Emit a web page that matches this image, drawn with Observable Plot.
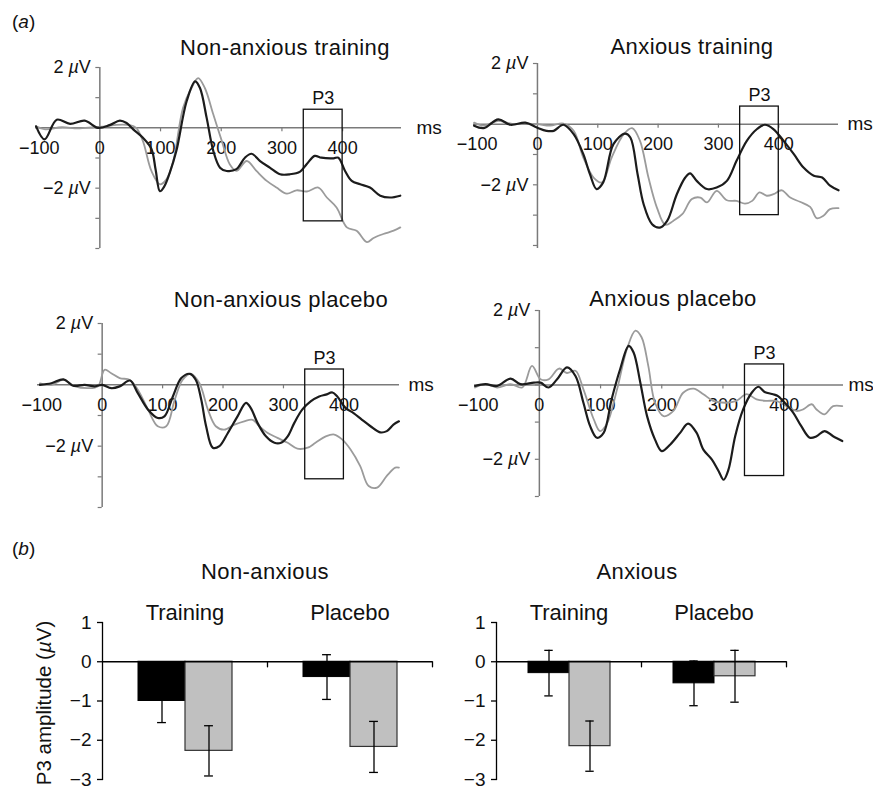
<!DOCTYPE html>
<html><head><meta charset="utf-8">
<script src="https://cdn.jsdelivr.net/npm/d3@7"></script>
<script src="https://cdn.jsdelivr.net/npm/@observablehq/plot@0.6"></script>
<style>
body{margin:0;background:#fff;font-family:"Liberation Sans",Arial,Helvetica,sans-serif;color:#111}
#fig{position:relative;width:873px;height:789px;overflow:hidden;background:#fff}
.lab{position:absolute;white-space:nowrap;transform:translate(-50%,-50%);font-size:22px;line-height:1;letter-spacing:0.4px}
.tag{position:absolute;white-space:nowrap;font-size:19px;line-height:1}
</style></head><body><div id="fig"></div>
<script>
// ---------- ERP waveforms: [ms, µV] ----------
const naTrainingBlack = [[-105,0.05],[-91,-0.38],[-71,0.27],[-49,0.13],[-25,0.24],[-3,0],[16,0.09],[33,0.24],[44,0.16],[55,-0.05],[71,-0.33],[85,-0.7],[92,-1.4],[99,-2.1],[106,-1.95],[115,-1.5],[126,-0.77],[143,0.88],[157,1.54],[165,1.32],[176,0.33],[187,-0.77],[198,-1.32],[209,-1.43],[225,-1.37],[239,-0.99],[250,-0.86],[264,-1.1],[280,-1.32],[297,-1.54],[313,-1.54],[330,-1.45],[341,-1.2],[354,-0.93],[365,-0.99],[385,-1.01],[393,-0.99],[404,-1.43],[415,-1.76],[429,-1.87],[445,-1.98],[462,-2.25],[478,-2.31],[495,-2.25]];
const naTrainingGrey = [[-105,0.05],[-90,-0.05],[-63,0.02],[-36,-0.02],[-10,0.02],[10,0.05],[27,0.1],[49,0.09],[60,0],[71,-0.44],[85,-1.43],[99,-1.87],[110,-1.7],[121,-1.1],[137,0.66],[151,1.32],[162,1.65],[173,1.32],[187,0.44],[201,-0.44],[214,-1.21],[225,-1.43],[242,-1.1],[258,-1.43],[275,-1.76],[291,-1.98],[308,-2.18],[324,-2.07],[341,-2.11],[360,-1.98],[374,-2.31],[390,-2.64],[407,-3.3],[423,-3.41],[440,-3.79],[451,-3.65],[467,-3.52],[484,-3.41],[495,-3.3]];
const aTrainingBlack = [[-105,-0.05],[-89,-0.13],[-65,0.16],[-45,-0.02],[-20,0.05],[-1,-0.11],[15,-0.22],[27,-0.22],[43,-0.02],[60,-0.33],[76,-0.99],[87,-1.65],[98,-2.14],[109,-1.92],[126,-0.66],[145,-0.31],[154,-0.44],[166,-1.65],[176,-2.64],[190,-3.3],[203,-3.41],[215,-3.19],[231,-2.31],[245,-1.76],[253,-1.62],[264,-1.87],[281,-2.14],[297,-2.09],[314,-1.87],[330,-1.21],[347,-0.55],[364,-0.16],[377,-0.02],[391,-0.16],[408,-0.55],[425,-0.99],[441,-1.43],[458,-1.7],[472,-1.76],[485,-2.03],[499,-2.18]];
const aTrainingGrey = [[-105,0.05],[-89,-0.05],[-65,0.11],[-40,0],[-18,0.02],[0,0],[21,-0.05],[43,0.02],[60,-0.22],[76,-1.1],[93,-1.76],[107,-1.92],[123,-1.1],[143,-0.33],[157,-0.13],[170,-0.55],[184,-1.76],[198,-2.75],[212,-3.32],[225,-3.19],[240,-2.97],[256,-2.47],[270,-2.42],[281,-2.58],[297,-2.2],[314,-2.51],[330,-2.53],[344,-2.62],[356,-2.53],[368,-2.25],[380,-2.36],[391,-2.31],[405,-2.18],[419,-2.42],[435,-2.56],[452,-2.73],[463,-3.1],[474,-3.02],[485,-2.8],[499,-2.77]];
const naPlaceboBlack = [[-103,0],[-84,0.05],[-64,0.18],[-48,-0.03],[-29,0],[-12,-0.05],[0,0],[15,-0.11],[29,-0.05],[46,0.14],[59,-0.27],[76,-0.81],[92,-1.08],[103,-1.03],[117,-0.38],[131,0.22],[145,0.36],[155,0.16],[164,-0.49],[172,-1.35],[183,-2.05],[194,-2.0],[208,-1.57],[224,-1.03],[238,-0.59],[246,-0.76],[257,-1.24],[271,-1.68],[285,-1.89],[296,-1.89],[307,-1.68],[318,-1.24],[331,-0.81],[345,-0.54],[359,-0.38],[370,-0.32],[381,-0.25],[389,-0.38],[403,-0.76],[416,-0.92],[430,-1.14],[444,-1.35],[460,-1.55],[471,-1.51],[482,-1.3],[491,-1.19]];
const naPlaceboGrey = [[-103,0.05],[-84,0],[-64,0.16],[-45,-0.05],[-23,-0.11],[-7,-0.05],[4,0.49],[15,0.38],[29,0.22],[46,0.16],[59,-0.16],[76,-0.81],[92,-1.35],[106,-1.35],[120,-0.49],[133,0.16],[147,0.36],[161,0.05],[175,-0.81],[188,-1.35],[202,-1.46],[219,-1.3],[235,-1.19],[249,-1.14],[260,-1.35],[274,-1.57],[290,-1.73],[307,-1.89],[323,-2.08],[340,-2.05],[353,-1.89],[370,-1.68],[384,-1.62],[397,-1.78],[411,-2.11],[427,-2.65],[441,-3.3],[455,-3.35],[471,-2.97],[485,-2.7],[491,-2.7]];
const aPlaceboBlack = [[-105,-0.03],[-88,0.02],[-69,-0.03],[-47,0.17],[-31,0.02],[-9,0.06],[2,0.06],[15,-0.07],[29,0.15],[45,0.47],[59,0.24],[72,-0.48],[83,-1.11],[94,-1.42],[105,-1.29],[118,-0.39],[132,0.42],[146,1.05],[154,0.87],[165,0.06],[176,-0.84],[189,-1.47],[200,-1.78],[214,-1.6],[230,-1.29],[243,-1.04],[257,-1.29],[268,-1.74],[282,-2.01],[293,-2.32],[301,-2.55],[309,-2.28],[320,-1.38],[333,-0.66],[347,-0.21],[358,-0.05],[368,-0.19],[382,-0.25],[390,-0.3],[398,-0.43],[415,-0.75],[428,-1.11],[442,-1.42],[453,-1.38],[466,-1.24],[480,-1.38],[495,-1.51]];
const aPlaceboGrey = [[-105,-0.07],[-88,0.02],[-69,-0.07],[-47,0.02],[-28,-0.07],[-12,0.51],[2,0.15],[15,0.15],[32,0.44],[45,0.32],[59,0.38],[72,-0.12],[89,-0.93],[99,-1.24],[110,-1.06],[127,-0.12],[143,0.96],[157,1.46],[167,1.28],[178,0.51],[189,-0.48],[203,-0.84],[219,-0.7],[235,-0.21],[252,-0.1],[268,-0.25],[284,-0.43],[306,-0.48],[322,-0.43],[339,-0.25],[355,-0.39],[371,-0.43],[387,-0.43],[404,-0.57],[420,-0.7],[431,-0.66],[445,-0.52],[453,-0.66],[466,-0.79],[480,-0.57],[495,-0.57]];

// P3 window boxes
const p3Window = [336, 400];
const p3BoxLow = [-3.1, -3.0, -3.08, -2.45];
const p3BoxHigh = [0.6, 0.58, 0.5, 0.55];

// ERP axis ticks / labels
const erpXTicks = [100, 200, 300, 400];
const erpXLabels = [-100, 0, 100, 200, 300, 400];
const erpYLabels = [2, -2];
const erpTitles = ["Non-anxious training", "Anxious training", "Non-anxious placebo", "Anxious placebo"];

// ---------- P3 amplitude bars ----------
const barGroups = ["Training", "Placebo"];
const barSeries = ["dark", "light"];
const barYTicks = [1, 0, -1, -2, -3];
const nonAnxiousDark = [-1.0, -0.39];
const nonAnxiousDarkErr = [0.55, 0.57];
const nonAnxiousLight = [-2.27, -2.17];
const nonAnxiousLightErr = [0.64, 0.65];
const anxiousDark = [-0.29, -0.55];
const anxiousDarkErr = [0.58, 0.57];
const anxiousLight = [-2.15, -0.37];
const anxiousLightErr = [0.64, 0.66];

// ---------- rendering ----------
const fig = document.getElementById("fig");
const FONT = '"Liberation Sans", Arial, Helvetica, sans-serif';
const AXIS = "#7a7a7a", BLACK = "#1c1c1c", GREY = "#9b9b9b";
const fmt = d => (d < 0 ? "\u2212" + (-d) : String(d));
const svgStyle = {fontFamily: FONT, fontSize: "18px", color: "#111", background: "transparent", overflow: "visible"};

function place(el, left, top) {
  el.style.position = "absolute";
  el.style.left = left + "px";
  el.style.top = top + "px";
  fig.appendChild(el);
}

const erpLayout = [
  {left: 0,   top: 40,  width: 435, height: 225, ml: 35, mr: 34, mt: 27, mb: 17, xDomain: [-106, 497], yDomain: [-4, 2],   msDx: 15},
  {left: 435, top: 40,  width: 438, height: 225, ml: 38, mr: 35, mt: 23, mb: 17, xDomain: [-106, 499], yDomain: [-4.1, 2], msDx: 9},
  {left: 0,   top: 295, width: 435, height: 225, ml: 37, mr: 36, mt: 28, mb: 13, xDomain: [-107, 492], yDomain: [-4, 2],   msDx: 9},
  {left: 435, top: 295, width: 438, height: 225, ml: 39, mr: 30, mt: 15, mb: 24, xDomain: [-106, 497], yDomain: [-3, 2],   msDx: 5}
];
const erpCurves = [
  [naTrainingBlack, naTrainingGrey], [aTrainingBlack, aTrainingGrey],
  [naPlaceboBlack, naPlaceboGrey], [aPlaceboBlack, aPlaceboGrey]
];

erpLayout.forEach((p, i) => {
  const ky = (p.height - p.mt - p.mb) / (p.yDomain[1] - p.yDomain[0]);
  const kx = (p.width - p.ml - p.mr) / (p.xDomain[1] - p.xDomain[0]);
  const yTicks = d3.range(Math.ceil(p.yDomain[0]), p.yDomain[1] + 1);
  const box = {x1: p3Window[0], x2: p3Window[1], y1: p3BoxLow[i], y2: p3BoxHigh[i]};
  const [black, grey] = erpCurves[i];
  const svg = Plot.plot({
    width: p.width, height: p.height,
    marginLeft: p.ml, marginRight: p.mr, marginTop: p.mt, marginBottom: p.mb,
    x: {domain: p.xDomain, axis: null},
    y: {domain: p.yDomain, axis: null},
    style: svgStyle,
    marks: [
      Plot.ruleY([0], {stroke: AXIS, strokeWidth: 1.5}),
      Plot.ruleX([0], {stroke: AXIS, strokeWidth: 1.5}),
      Plot.ruleX(erpXTicks, {x: d => d, y1: 0, y2: -4 / ky, stroke: AXIS, strokeWidth: 1.2}),
      Plot.ruleY(yTicks, {y: d => d, x1: 0, x2: -4 / kx, stroke: AXIS, strokeWidth: 1.2}),
      Plot.text(erpXLabels, {x: d => d, y: 0, dy: 20, text: fmt, fontSize: 18, fill: "#111"}),
      Plot.text(erpYLabels, {x: 0, y: d => d, dx: -9, textAnchor: "end", text: d => fmt(d) + " µV", fontSize: 18, fill: "#111"}),
      Plot.text(["ms"], {x: p.xDomain[1], y: 0, dx: p.msDx, textAnchor: "start", text: d => d, fontSize: 19, fill: "#111"}),
      Plot.line(grey, {x: d => d[0], y: d => d[1], stroke: GREY, strokeWidth: 1.8, curve: "catmull-rom"}),
      Plot.line(black, {x: d => d[0], y: d => d[1], stroke: BLACK, strokeWidth: 2.2, curve: "catmull-rom"}),
      Plot.rect([box], {x1: "x1", x2: "x2", y1: "y1", y2: "y2", fill: "none", stroke: "#111", strokeWidth: 1.3}),
      Plot.text([box], {x: d => (d.x1 + d.x2) / 2, y: "y2", dy: -11, text: () => "P3", fontSize: 18, fill: "#111"})
    ]
  });
  place(svg, p.left, p.top);
});

const tickShape = {draw(context, l) { context.moveTo(0, 0); context.lineTo(0, -l); }};

const barLayout = [
  {left: 0,   top: 590, width: 440, height: 199, ml: 102, mr: 8,  mt: 32, mb: 10,
   dark: nonAnxiousDark, darkErr: nonAnxiousDarkErr, light: nonAnxiousLight, lightErr: nonAnxiousLightErr},
  {left: 440, top: 590, width: 433, height: 199, ml: 55,  mr: 87, mt: 32, mb: 10,
   dark: anxiousDark, darkErr: anxiousDarkErr, light: anxiousLight, lightErr: anxiousLightErr}
];

barLayout.forEach(c => {
  const data = barGroups.flatMap((g, gi) => [
    {group: g, series: barSeries[0], value: c.dark[gi], err: c.darkErr[gi]},
    {group: g, series: barSeries[1], value: c.light[gi], err: c.lightErr[gi]}
  ]);
  const outer = 0.75;
  const bw = (c.width - c.ml - c.mr) / barGroups.length / (barSeries.length + 2 * outer);
  const capInset = (bw - 9) / 2;
  const svg = Plot.plot({
    width: c.width, height: c.height,
    marginLeft: c.ml, marginRight: c.mr, marginTop: c.mt, marginBottom: c.mb,
    fx: {domain: barGroups, padding: 0, axis: null},
    x: {domain: barSeries, paddingInner: 0, paddingOuter: outer, axis: null},
    y: {domain: [-3, 1], axis: null},
    style: svgStyle,
    marks: [
      Plot.barY(data.filter(d => d.series === barSeries[0]), {fx: "group", x: "series", y: "value", fill: "#000", stroke: "#000", strokeWidth: 1}),
      Plot.barY(data.filter(d => d.series === barSeries[1]), {fx: "group", x: "series", y: "value", fill: "#c0c0c0", stroke: "#333", strokeWidth: 1.2}),
      Plot.axisY({ticks: barYTicks, tickSize: 5, tickPadding: 6, tickFormat: fmt, fontSize: 19, label: null, stroke: "#000", strokeWidth: 1.3}),
      Plot.frame({anchor: "left", facetAnchor: "left", stroke: "#000", strokeWidth: 1.3}),
      Plot.ruleY([0], {stroke: "#000", strokeWidth: 1.3}),
      Plot.vector(barGroups, {fx: d => d, y: 0, frameAnchor: "right", length: 5, rotate: 180, anchor: "start", shape: tickShape, stroke: "#000", strokeWidth: 1.3}),
      Plot.ruleX(data, {fx: "group", x: "series", y1: d => d.value - d.err, y2: d => d.value + d.err, stroke: "#000", strokeWidth: 1.3}),
      Plot.tickY(data, {fx: "group", x: "series", y: d => d.value - d.err, insetLeft: capInset, insetRight: capInset, stroke: "#000", strokeWidth: 1.3}),
      Plot.tickY(data, {fx: "group", x: "series", y: d => d.value + d.err, insetLeft: capInset, insetRight: capInset, stroke: "#000", strokeWidth: 1.3}),
      Plot.text(barGroups, {fx: d => d, text: d => d, frameAnchor: "top", dy: -18, fontSize: 22, fill: "#111"})
    ]
  });
  place(svg, c.left, c.top);
});

// italic µ inside SVG texts
fig.querySelectorAll("svg text").forEach(t => {
  if (t.children.length === 0 && t.textContent.includes("µ")) {
    const parts = t.textContent.split("µ");
    t.textContent = "";
    parts.forEach((part, k) => {
      if (k > 0) {
        const ts = document.createElementNS("http://www.w3.org/2000/svg", "tspan");
        ts.setAttribute("font-style", "italic");
        ts.textContent = "µ";
        t.appendChild(ts);
      }
      t.appendChild(document.createTextNode(part));
    });
  }
});

// titles and labels
function label(html, x, y, cls, extra) {
  const d = document.createElement("div");
  d.className = cls;
  d.innerHTML = html;
  d.style.left = x + "px";
  d.style.top = y + "px";
  if (extra) Object.assign(d.style, extra);
  fig.appendChild(d);
}
const erpTitlePos = [[285, 48], [692, 47], [281, 300], [673, 299]];
erpTitles.forEach((t, i) => label(t, erpTitlePos[i][0], erpTitlePos[i][1], "lab"));
label("Non-anxious", 265, 572, "lab");
label("Anxious", 637, 572, "lab");
label("(<i>a</i>)", 12, 12, "tag");
label("(<i>b</i>)", 12, 539, "tag");
label("P3 amplitude (<i>µ</i>V)", 44, 703, "lab", {fontSize: "20.5px", letterSpacing: "0px", transform: "translate(-50%,-50%) rotate(-90deg)"});
</script></body></html>
